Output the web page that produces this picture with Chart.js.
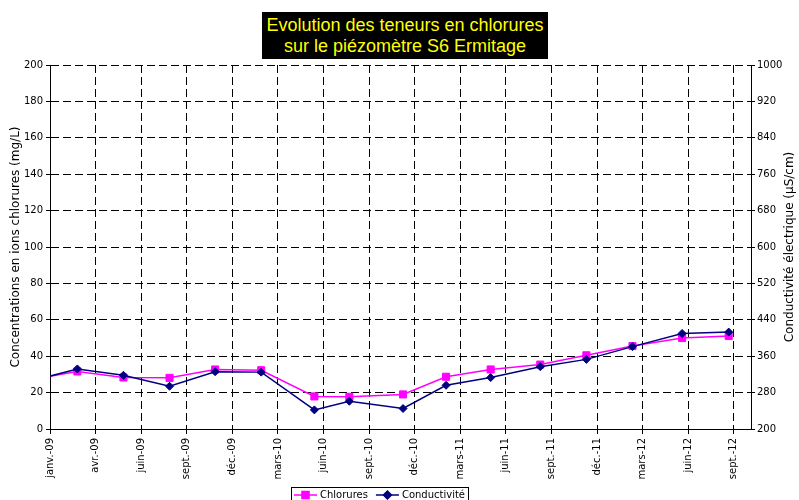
<!DOCTYPE html>
<html>
<head>
<meta charset="utf-8">
<script src="https://cdn.jsdelivr.net/npm/chart.js@4.4.1/dist/chart.umd.min.js"></script>
<style>
  body { margin: 0; background: #fff; }
  #wrap { position: relative; width: 799px; height: 500px; }
  #titre {
    position: absolute; left: 262px; top: 12px; width: 286px; height: 47px;
    background: #000; color: #ff0; text-align: center;
    font: 18px "Liberation Sans", Arial, sans-serif; line-height: 21px;
    padding-top: 3px; box-sizing: border-box;
  }
</style>
</head>
<body>
<div id="wrap">
  <canvas id="graph" width="799" height="500"></canvas>
  <div id="titre">Evolution des teneurs en chlorures<br>sur le piézomètre S6 Ermitage</div>
</div>
<script>
// dates de prélèvement et mesures
const sampleDates = ['2008-11-27', '2009-02-24', '2009-05-26', '2009-08-25', '2009-11-23', '2010-02-22',
                     '2010-06-07', '2010-08-15', '2010-11-29', '2011-02-22', '2011-05-21', '2011-08-27',
                     '2011-11-26', '2012-02-25', '2012-06-02', '2012-09-02'];
const chlorures = [27.2, 31.6, 28.3, 28.1, 32.7, 32.3, 17.9, 17.7, 19.0, 28.7, 32.7, 35.4, 40.5, 45.6, 50.0, 51.1];
const conductivite = [306, 332, 318, 294, 326, 325, 242, 261, 245, 296, 313, 337, 353, 381, 410, 413];

// axe des dates : une graduation tous les 90 jours depuis le 1er janvier 2009
const tickLabels = ['janv.-09', 'avr.-09', 'juin-09', 'sept.-09', 'déc.-09', 'mars-10', 'juin-10', 'sept.-10',
                    'déc.-10', 'mars-11', 'juin-11', 'sept.-11', 'déc.-11', 'mars-12', 'juin-12', 'sept.-12'];
const axisStart = Date.UTC(2009, 0, 1);
const stepDays = 90;
const axisEndDays = 1384;

const toDays = (d) => (Date.parse(d) - axisStart) / 86400000;

Chart.defaults.font.family = '"DejaVu Sans", Verdana, sans-serif';
Chart.defaults.font.size = 10;
Chart.defaults.color = '#000';

// titre de l'axe droit (lu de bas en haut) + légende encadrée
const extras = {
    id: 'extras',
    afterDraw(chart) {
        const ctx = chart.ctx;
        const area = chart.chartArea;
        ctx.save();
        ctx.font = '12px "DejaVu Sans", Verdana, sans-serif';
        ctx.fillStyle = '#000';
        ctx.textAlign = 'center';
        ctx.textBaseline = 'middle';
        ctx.translate(790, (area.top + area.bottom) / 2);
        ctx.rotate(-Math.PI / 2);
        ctx.fillText('Conductivité électrique (µS/cm)', 0, 0);
        ctx.restore();

        ctx.save();
        ctx.font = '10px "DejaVu Sans", Verdana, sans-serif';
        ctx.textBaseline = 'middle';
        ctx.textAlign = 'left';
        const y = 495;
        let x = 294;
        const boxLeft = 291;
        chart.data.datasets.forEach((ds) => {
            ctx.strokeStyle = ds.borderColor;
            ctx.lineWidth = ds.borderWidth;
            ctx.beginPath();
            ctx.moveTo(x, y);
            ctx.lineTo(x + 23, y);
            ctx.stroke();
            ctx.fillStyle = ds.backgroundColor;
            Chart.helpers.drawPoint(ctx, {pointStyle: ds.pointStyle, radius: ds.pointRadius, borderWidth: 1}, x + 11.5, y);
            ctx.fillStyle = '#000';
            ctx.fillText(ds.label, x + 26, y);
            x = x + 26 + ctx.measureText(ds.label).width + 8;
        });
        ctx.strokeStyle = '#000';
        ctx.lineWidth = 1;
        ctx.strokeRect(boxLeft + 0.5, 487.5, x - 5 - boxLeft, 20);
        ctx.restore();
    }
};

new Chart(document.getElementById('graph'), {
    type: 'line',
    data: {
        datasets: [{
            label: 'Chlorures',
            data: sampleDates.map((d, i) => ({x: toDays(d), y: chlorures[i]})),
            yAxisID: 'y',
            borderColor: '#ff00ff',
            backgroundColor: '#ff00ff',
            borderWidth: 1.5,
            pointStyle: 'rect',
            pointRadius: 5,
            pointBorderWidth: 1,
            order: 1,
            clip: 0
        }, {
            label: 'Conductivité',
            data: sampleDates.map((d, i) => ({x: toDays(d), y: conductivite[i]})),
            yAxisID: 'y1',
            borderColor: '#000080',
            backgroundColor: '#000080',
            borderWidth: 1.5,
            pointStyle: 'rectRot',
            pointRadius: 4,
            pointBorderWidth: 1,
            order: 0,
            clip: 0
        }]
    },
    options: {
        responsive: false,
        animation: false,
        layout: { padding: { top: 65, bottom: 21, left: 0, right: 0 } },
        plugins: { legend: { display: false }, tooltip: { enabled: false } },
        scales: {
            x: {
                type: 'linear',
                min: 0,
                max: axisEndDays,
                afterBuildTicks: (scale) => {
                    scale.ticks = tickLabels.map((t, i) => ({value: i * stepDays}));
                },
                afterFit: (scale) => { scale.height = 50; },
                ticks: {
                    autoSkip: false,
                    minRotation: 90,
                    maxRotation: 90,
                    padding: 4,
                    callback: (v) => tickLabels[Math.round(v / stepDays)]
                },
                grid: { color: '#000', lineWidth: 1, tickLength: 5 },
                border: { color: '#000', width: 1, dash: [8, 4] }
            },
            y: {
                position: 'left',
                min: 0,
                max: 200,
                afterFit: (scale) => { scale.width = 50; },
                ticks: { stepSize: 20, padding: 3, callback: (v) => String(v) },
                grid: { color: '#000', lineWidth: 1, tickLength: 4 },
                border: { color: '#000', width: 1, dash: [8, 4] },
                title: {
                    display: true,
                    text: 'Concentrations en ions chlorures (mg/L)',
                    font: { size: 12 },
                    padding: { top: 9, bottom: 0 }
                }
            },
            y1: {
                position: 'right',
                min: 200,
                max: 1000,
                afterFit: (scale) => { scale.width = 48; },
                ticks: { stepSize: 80, padding: 2, callback: (v) => String(v) },
                grid: { drawOnChartArea: false, color: '#000', lineWidth: 1, tickLength: 4 },
                border: { color: '#000', width: 1 }
            }
        }
    },
    plugins: [extras]
});
</script>
</body>
</html>
